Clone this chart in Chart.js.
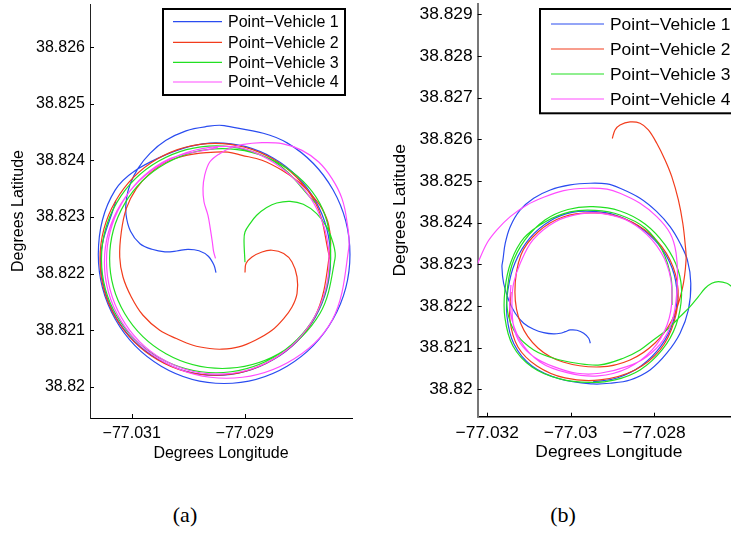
<!DOCTYPE html>
<html><head><meta charset="utf-8">
<script src="https://cdn.jsdelivr.net/npm/chart.js@4.4.0/dist/chart.umd.min.js"></script>
<style>
html,body{margin:0;padding:0;background:#fff;overflow:hidden;width:731px;height:534px;}
.cap{position:absolute;font-family:"Liberation Serif",serif;font-size:22px;color:#000;transform:translate(-50%,-50%);white-space:nowrap;}
</style></head>
<body>
<canvas id="ca" width="370" height="470" style="position:absolute;left:0;top:0"></canvas>
<canvas id="cb" width="380" height="470" style="position:absolute;left:370px;top:0"></canvas>
<div class="cap" style="left:185px;top:515px">(a)</div>
<div class="cap" style="left:563px;top:515px">(b)</div>
<script>
// ---------- labels / ticks ----------
const vehicleLabels = ['Point\u2212Vehicle 1','Point\u2212Vehicle 2','Point\u2212Vehicle 3','Point\u2212Vehicle 4'];
const vehicleColors = ['#2a4cf0','#f23c1c','#22e022','#ff4cff'];

const xTicksA = [-77.031, -77.029];
const xTickLabelsA = ['\u221277.031','\u221277.029'];
const yTicksA = [38.82, 38.821, 38.822, 38.823, 38.824, 38.825, 38.826];
const yTickLabelsA = ['38.82','38.821','38.822','38.823','38.824','38.825','38.826'];
const xRangeA = [-77.031738, -77.027101];
const yRangeA = [38.819447, 38.826765];

const xTicksB = [-77.032, -77.03, -77.028];
const xTickLabelsB = ['\u221277.032','\u221277.03','\u221277.028'];
const yTicksB = [38.82, 38.821, 38.822, 38.823, 38.824, 38.825, 38.826, 38.827, 38.828, 38.829];
const yTickLabelsB = ['38.82','38.821','38.822','38.823','38.824','38.825','38.826','38.827','38.828','38.829'];
const xRangeB = [-77.03223, -77.02594];
const yRangeB = [38.819342, 38.829247];

// ---------- (a) trajectories ----------
const v1LonA = [-77.029508,-77.029543,-77.029644,-77.029809,-77.030004,-77.030204,-77.030411,-77.030641,-77.030853,-77.031021,-77.031101,-77.031092,-77.031021,-77.030888,-77.030676,-77.030393,-77.030039,-77.029703,-77.029364,-77.02825,-77.027435,-77.027137,-77.027435,-77.02825,-77.029364,-77.030478,-77.031293,-77.031591,-77.031293,-77.03053,-77.02951,-77.02849,-77.02775,-77.02748,-77.02775,-77.02849,-77.02951,-77.03053,-77.03128,-77.03155,-77.03128];
const v1LatA = [38.822018,38.822147,38.822306,38.822403,38.822429,38.822399,38.822385,38.822429,38.822527,38.822747,38.823048,38.82333,38.823595,38.82386,38.824125,38.824355,38.824523,38.824594,38.824615,38.82431,38.823476,38.822336,38.821196,38.820362,38.820057,38.820362,38.821196,38.822336,38.823476,38.82404,38.82431,38.82404,38.82329,38.82226,38.82123,38.82048,38.8202,38.82048,38.82123,38.82226,38.82329];

const v2LonA = [-77.028995,-77.028977,-77.028871,-77.028694,-77.028517,-77.02831,-77.028163,-77.028074,-77.028074,-77.028163,-77.02831,-77.028517,-77.028812,-77.029106,-77.029402,-77.029619,-77.029915,-77.030211,-77.030504,-77.0308,-77.031007,-77.031154,-77.031212,-77.031184,-77.031096,-77.030919,-77.030681,-77.030388,-77.030034,-77.02968,-77.029296,-77.029048,-77.028694,-77.02834,-77.028044,-77.027809,-77.027632,-77.027513,-77.027485,-77.027763,-77.028508,-77.029526,-77.030543,-77.031288,-77.031561,-77.031288,-77.030543,-77.029526,-77.028508,-77.027763,-77.02749];
const v2LatA = [38.822018,38.822177,38.822293,38.822382,38.822412,38.822353,38.822205,38.82194,38.821647,38.82141,38.821205,38.820998,38.820822,38.820703,38.820663,38.820675,38.820733,38.820852,38.820998,38.821263,38.821587,38.82194,38.822293,38.822735,38.823148,38.823502,38.823767,38.823972,38.82409,38.824138,38.824148,38.82409,38.824002,38.823825,38.823618,38.823383,38.823148,38.822853,38.822442,38.821228,38.820477,38.820203,38.820477,38.821228,38.822253,38.823277,38.824028,38.824302,38.824028,38.823277,38.822253];

const v3LonA = [-77.028995,-77.029012,-77.028995,-77.028906,-77.028788,-77.028611,-77.028434,-77.028198,-77.027963,-77.027726,-77.027549,-77.027432,-77.027402,-77.027669,-77.028398,-77.029396,-77.030393,-77.031124,-77.031391,-77.031124,-77.030393,-77.029396,-77.028398,-77.027669,-77.027481,-77.027752,-77.028494,-77.029508,-77.03052,-77.031264,-77.031535,-77.031264,-77.03052,-77.029508,-77.028494,-77.027752];
const v3LatA = [38.8222,38.822588,38.822735,38.822883,38.82303,38.823166,38.823247,38.823277,38.823224,38.82306,38.822823,38.82253,38.822265,38.821293,38.820581,38.820322,38.820581,38.821293,38.822265,38.823237,38.823949,38.824208,38.823949,38.823237,38.822253,38.821249,38.820516,38.820247,38.820516,38.821249,38.822253,38.823254,38.823989,38.824258,38.823989,38.823254];

const v4LonA = [-77.029517,-77.029549,-77.029573,-77.029609,-77.02965,-77.02972,-77.029738,-77.029708,-77.029619,-77.029442,-77.02926,-77.029048,-77.028694,-77.02834,-77.027986,-77.02769,-77.027455,-77.027278,-77.027189,-77.027159,-77.027453,-77.028244,-77.029324,-77.030404,-77.031195,-77.031483,-77.031195,-77.030404,-77.029324,-77.02849,-77.02777,-77.027506,-77.02777,-77.02849,-77.029476,-77.030462,-77.031182,-77.031446,-77.031182,-77.030462,-77.029476];
const v4LatA = [38.82227,38.822382,38.822558,38.822795,38.82303,38.823265,38.823502,38.823737,38.823972,38.82412,38.824214,38.824279,38.824314,38.824297,38.824178,38.823972,38.823678,38.823325,38.822912,38.822442,38.821175,38.820424,38.82015,38.820424,38.821175,38.8222,38.823224,38.823975,38.824249,38.823963,38.82323,38.822226,38.821223,38.820489,38.820221,38.820489,38.821223,38.822226,38.82323,38.823963,38.824231];

// ---------- (b) trajectories ----------
const v1LonB = [-77.02953,-77.029568,-77.029688,-77.029849,-77.03001,-77.03013,-77.03025,-77.030408,-77.030648,-77.030888,-77.031128,-77.03133,-77.031488,-77.031608,-77.031649,-77.031625,-77.031569,-77.03145,-77.03121,-77.030888,-77.03049,-77.03001,-77.02953,-77.029129,-77.028817,-77.028337,-77.027936,-77.027617,-77.027377,-77.027202,-77.02712,-77.027178,-77.027377,-77.027696,-77.028097,-77.028577,-77.029057,-77.029465,-77.030257,-77.030929,-77.031361,-77.031529,-77.031505,-77.031337,-77.030977,-77.030497,-77.029969,-77.029465,-77.028937,-77.028385,-77.027905,-77.027569,-77.027449,-77.027545,-77.027833,-77.028313,-77.028889,-77.029465];
const v1LatB = [38.821105,38.821225,38.821345,38.821417,38.821424,38.821383,38.821345,38.821328,38.821359,38.821441,38.821585,38.821825,38.822144,38.822545,38.822943,38.823104,38.823505,38.823903,38.824304,38.824585,38.824784,38.824904,38.824945,38.824928,38.824825,38.824585,38.824263,38.823903,38.823505,38.823104,38.822545,38.821904,38.821345,38.820865,38.820464,38.820224,38.820145,38.820128,38.820248,38.82056,38.821088,38.82176,38.822384,38.823032,38.823632,38.82404,38.824244,38.824268,38.824184,38.82392,38.823488,38.822912,38.822264,38.821616,38.82104,38.82056,38.820272,38.820176];

const v2LonB = [-77.029002,-77.028937,-77.028817,-77.028577,-77.028337,-77.028138,-77.027936,-77.027737,-77.027576,-77.027418,-77.027312,-77.027257,-77.027233,-77.027329,-77.027569,-77.027977,-77.028577,-77.029297,-77.030185,-77.030785,-77.031193,-77.031337,-77.031193,-77.030785,-77.030185,-77.029417,-77.028697,-77.028073,-77.027617,-77.027425,-77.027521,-77.027857,-77.028457,-77.029297,-77.030137,-77.030809,-77.031265,-77.031457,-77.031433];
const v2LatB = [38.82602,38.826224,38.826344,38.826416,38.826384,38.826224,38.825904,38.825504,38.825103,38.824544,38.823985,38.823505,38.823104,38.822384,38.821664,38.821112,38.820704,38.820536,38.820656,38.820992,38.821568,38.822336,38.823224,38.823776,38.824136,38.824232,38.824088,38.823704,38.823104,38.822384,38.821616,38.820944,38.820464,38.820224,38.820272,38.82056,38.821016,38.821664,38.822336];

const v3LonB = [-77.026057,-77.026136,-77.026256,-77.026458,-77.026616,-77.026777,-77.026938,-77.027137,-77.027377,-77.027696,-77.028018,-77.028337,-77.028738,-77.029297,-77.029849,-77.030408,-77.030888,-77.031289,-77.031488,-77.031529,-77.031409,-77.031097,-77.030617,-77.030065,-77.029465,-77.028817,-77.028217,-77.027737,-77.027425,-77.027341,-77.027473,-77.027809,-77.028337,-77.028937,-77.029537,-77.030257,-77.030929,-77.031385,-77.031577,-77.031577,-77.031433,-77.031121,-77.030617,-77.030017,-77.029417,-77.028817,-77.028217,-77.027809,-77.027593,-77.027569];
const v3LatB = [38.822384,38.822463,38.822545,38.822583,38.822545,38.822425,38.822223,38.821983,38.821743,38.821424,38.821184,38.820944,38.820745,38.820584,38.820625,38.820745,38.820944,38.821304,38.821743,38.822264,38.822984,38.823584,38.824064,38.824316,38.824383,38.82428,38.823968,38.823464,38.822864,38.822264,38.821544,38.820944,38.820464,38.820224,38.820164,38.820248,38.820536,38.82104,38.821712,38.822384,38.823056,38.823632,38.824016,38.824256,38.824292,38.824184,38.823872,38.823344,38.822672,38.822024];

const v4LonB = [-77.032237,-77.032009,-77.031769,-77.03145,-77.031049,-77.030648,-77.030168,-77.029609,-77.029129,-77.028817,-77.028337,-77.027936,-77.027617,-77.027473,-77.027442,-77.027538,-77.027778,-77.028176,-77.028656,-77.029297,-77.029849,-77.030408,-77.030888,-77.03121,-77.031368,-77.031409,-77.031368,-77.03121,-77.030905,-77.030377,-77.029777,-77.029177,-77.028577,-77.028049,-77.027689,-77.027569,-77.027689,-77.028049,-77.028625,-77.029345,-77.030065,-77.030737,-77.031217,-77.031457,-77.031433];
const v4LatB = [38.823008,38.823505,38.823824,38.824143,38.824424,38.824609,38.824767,38.824825,38.824803,38.824705,38.824465,38.824143,38.823745,38.823272,38.822545,38.821743,38.821184,38.820783,38.820543,38.820385,38.820385,38.820543,38.820783,38.821105,38.821503,38.822065,38.822545,38.823025,38.823584,38.824016,38.824208,38.824208,38.824016,38.823584,38.822984,38.822264,38.821544,38.820944,38.820512,38.82032,38.820392,38.820656,38.821184,38.821904,38.822504];

// ---------- helpers ----------
Chart.defaults.font.family = '"Liberation Sans", Arial, Helvetica, sans-serif';
Chart.defaults.color = '#000';

function pts(lon, lat) {
  const n = Math.min(lon.length, lat.length), out = [];
  for (let i = 0; i < n; i++) out.push({x: lon[i], y: lat[i]});
  return out;
}
function makeDatasets(lons, lats) {
  return vehicleLabels.map((lab, i) => ({
    label: lab,
    data: pts(lons[i], lats[i]),
    showLine: true,
    borderColor: vehicleColors[i],
    backgroundColor: vehicleColors[i],
    borderWidth: 1.2,
    pointRadius: 0,
    tension: 0.35,
    order: 4 - i
  }));
}

const inTicks = {
  id: 'inTicks',
  afterDraw(chart, args, o) {
    const {ctx, chartArea, scales} = chart;
    ctx.save();
    ctx.strokeStyle = '#000';
    ctx.lineWidth = 1;
    scales.x.ticks.forEach(t => {
      const px = Math.round(scales.x.getPixelForValue(t.value)) + 0.5;
      ctx.beginPath(); ctx.moveTo(px, chartArea.bottom); ctx.lineTo(px, chartArea.bottom - o.len); ctx.stroke();
    });
    scales.y.ticks.forEach(t => {
      const py = Math.round(scales.y.getPixelForValue(t.value)) + 0.5;
      ctx.beginPath(); ctx.moveTo(chartArea.left, py); ctx.lineTo(chartArea.left + o.len, py); ctx.stroke();
    });
    ctx.restore();
  }
};

const boxLegend = {
  id: 'boxLegend',
  afterDraw(chart, args, o) {
    const ctx = chart.ctx;
    ctx.save();
    ctx.fillStyle = '#fff';
    ctx.fillRect(o.x0, o.y0, o.x1 - o.x0, o.y1 - o.y0);
    ctx.lineWidth = 2;
    ctx.strokeStyle = '#000';
    ctx.strokeRect(o.x0, o.y0, o.x1 - o.x0, o.y1 - o.y0);
    ctx.font = o.size + 'px "Liberation Sans", Arial, sans-serif';
    ctx.textBaseline = 'middle';
    ctx.textAlign = 'left';
    chart.data.datasets.forEach((ds, i) => {
      const y = o.rows[i];
      ctx.strokeStyle = ds.borderColor;
      ctx.lineWidth = 1.2;
      ctx.beginPath(); ctx.moveTo(o.lx0, y); ctx.lineTo(o.lx1, y); ctx.stroke();
      ctx.fillStyle = '#000';
      ctx.fillText(ds.label, o.tx, y + 1);
    });
    ctx.restore();
  }
};

function makeChart(canvasId, cfg) {
  return new Chart(document.getElementById(canvasId), {
    type: 'scatter',
    data: {datasets: makeDatasets(cfg.lons, cfg.lats)},
    options: {
      responsive: false,
      animation: false,
      events: [],
      layout: {padding: cfg.padding},
      plugins: {
        legend: {display: false},
        tooltip: {enabled: false},
        inTicks: {len: 4},
        boxLegend: cfg.legend
      },
      scales: {
        x: {
          type: 'linear', position: 'bottom',
          min: cfg.xRange[0], max: cfg.xRange[1],
          afterBuildTicks: s => { s.ticks = cfg.xTicks.map(v => ({value: v})); },
          afterFit: s => { s.height = cfg.xAxisH; s.paddingLeft = 0; s.paddingRight = 0; },
          ticks: {autoSkip: false, maxRotation: 0, padding: cfg.xTickPad, font: {size: cfg.fs}, color: '#000',
                  callback: (v, i) => cfg.xLabels[i]},
          grid: {display: true, drawOnChartArea: false, drawTicks: false},
          border: {display: true, color: cfg.xAxisColor, width: cfg.xAxisW},
          title: {display: true, text: 'Degrees Longitude', color: '#000', font: {size: cfg.fs},
                  padding: {top: cfg.xTitlePad, bottom: cfg.xTitlePad}}
        },
        y: {
          type: 'linear', position: 'left',
          min: cfg.yRange[0], max: cfg.yRange[1],
          afterBuildTicks: s => { s.ticks = cfg.yTicks.map(v => ({value: v})); },
          afterFit: s => { s.width = cfg.yAxisW; s.paddingTop = 0; s.paddingBottom = 0; },
          ticks: {autoSkip: false, padding: 5, font: {size: cfg.fs}, color: '#000',
                  callback: (v, i) => cfg.yLabels[i]},
          grid: {display: true, drawOnChartArea: false, drawTicks: false},
          border: {display: true, color: cfg.yAxisColor, width: cfg.yAxisLW},
          title: {display: true, text: 'Degrees Latitude', color: '#000', font: {size: cfg.fs},
                  padding: {top: cfg.yTitlePad, bottom: cfg.yTitlePad}}
        }
      }
    },
    plugins: [inTicks, boxLegend]
  });
}

makeChart('ca', {
  lons: [v1LonA, v2LonA, v3LonA, v4LonA], lats: [v1LatA, v2LatA, v3LatA, v4LatA],
  padding: {left: 0, top: 4, right: 18, bottom: 0},
  xRange: xRangeA, yRange: yRangeA,
  xTicks: xTicksA, xLabels: xTickLabelsA, yTicks: yTicksA, yLabels: yTickLabelsA,
  xAxisH: 52, yAxisW: 90, fs: 16, xTickPad: 6, xTitlePad: 7, yTitlePad: 9,
  xAxisColor: '#000', xAxisW: 1, yAxisColor: '#222', yAxisLW: 1,
  legend: {x0: 163, y0: 9, x1: 345, y1: 95, rows: [21.7, 42.3, 62.3, 82], lx0: 173, lx1: 222, tx: 228, size: 16}
});

makeChart('cb', {
  lons: [v1LonB, v2LonB, v3LonB, v4LonB], lats: [v1LatB, v2LatB, v3LatB, v4LatB],
  padding: {left: 0, top: 4, right: 10, bottom: 0},
  xRange: xRangeB, yRange: yRangeB,
  xTicks: xTicksB, xLabels: xTickLabelsB, yTicks: yTicksB, yLabels: yTickLabelsB,
  xAxisH: 53.3, yAxisW: 107.7, fs: 17.4, xTickPad: 6, xTitlePad: 7, yTitlePad: 20,
  xAxisColor: '#000', xAxisW: 1.5, yAxisColor: '#777', yAxisLW: 2,
  legend: {x0: 170, y0: 9, x1: 368, y1: 113.3, rows: [24, 49, 74, 99], lx0: 181, lx1: 234, tx: 240, size: 17.4}
});
</script>
</body></html>
